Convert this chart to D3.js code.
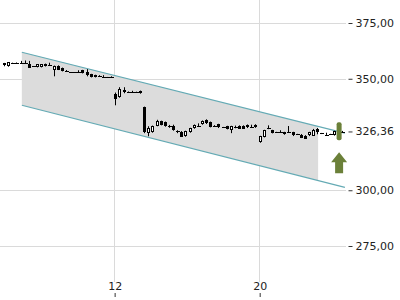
<!DOCTYPE html>
<html>
<head>
<meta charset="utf-8">
<script src="https://cdn.jsdelivr.net/npm/d3@7"></script>
<style>
  body { margin: 0; background: #fff; }
  text { font-family: "DejaVu Sans", sans-serif; font-size: 11px; fill: #222; }
</style>
</head>
<body>
<div id="chart"></div>
<script>
// candles, one per period
const opens = [356.9, 355.6, 357.1, 357.1, 357.0, 357.0, 356.8, 355.6, 355.2, 355.2,
  356.6, 356.1, 354.1, 355.8, 354.9, 353.4, 352.9, 352.9, 352.9, 353.8,
  353.2, 352.0, 350.8, 351.5, 350.9, 350.7, 350.6, 343.3, 341.8, 344.9,
  344.1, 344.1, 344.0, 344.5, 337.4, 325.7, 326.1, 329.0, 330.9, 330.5,
  328.8, 328.7, 326.5, 326.3, 324.2, 326.0, 327.8, 328.9, 329.6, 331.4,
  330.5, 329.0, 329.6, 328.2, 328.7, 327.0, 328.3, 329.0, 329.0, 329.1,
  328.2, 329.1, 321.5, 323.9, 327.8, 326.9, 326.0, 326.1, 326.0, 326.1,
  326.0, 325.1, 325.0, 324.5, 324.5, 324.7, 327.4, 325.5, 325.0, 325.0,
  324.7, 326.3, 325.9];
const highs = [357.1, 357.5, 357.2, 357.3, 358.0, 358.2, 358.0, 355.7, 356.5, 356.6,
  356.8, 357.2, 355.9, 356.0, 355.0, 353.9, 353.0, 353.0, 353.8, 354.0,
  354.3, 352.2, 351.8, 351.6, 351.6, 350.8, 351.1, 343.8, 346.2, 346.2,
  344.3, 344.6, 344.2, 344.7, 337.5, 328.7, 329.0, 331.6, 331.2, 330.8,
  329.3, 329.4, 326.9, 326.5, 326.7, 328.0, 329.5, 330.0, 331.3, 331.8,
  330.8, 329.2, 329.8, 328.4, 328.9, 328.9, 329.0, 329.1, 329.1, 329.5,
  329.4, 329.6, 324.4, 327.1, 329.1, 327.1, 326.2, 326.9, 326.2, 328.8,
  326.2, 325.3, 325.2, 324.7, 326.2, 327.5, 327.9, 325.7, 325.8, 325.3,
  326.7, 327.0, 326.6];
const lows = [355.6, 355.4, 356.9, 357.0, 356.9, 356.9, 355.0, 355.3, 355.1, 355.1,
  355.5, 356.0, 351.1, 353.9, 353.3, 353.2, 352.8, 352.8, 352.8, 352.4,
  351.1, 350.6, 350.6, 350.8, 350.8, 350.6, 350.4, 338.1, 341.5, 343.5,
  343.9, 343.9, 343.8, 343.3, 325.6, 324.2, 325.8, 328.7, 329.1, 328.5,
  328.0, 326.7, 325.6, 324.0, 324.0, 325.8, 327.6, 328.7, 329.4, 329.7,
  328.2, 328.8, 327.9, 328.0, 327.3, 325.6, 327.8, 327.6, 327.6, 327.9,
  328.0, 328.0, 321.3, 323.7, 327.4, 325.5, 325.8, 325.9, 324.9, 325.9,
  324.3, 324.8, 323.4, 323.1, 324.3, 324.5, 325.1, 325.2, 324.8, 324.8,
  324.5, 325.5, 325.7];
const closes = [355.8, 357.4, 357.0, 357.2, 357.1, 357.0, 355.1, 355.5, 356.4, 356.4,
  355.7, 356.2, 355.7, 354.1, 353.5, 353.3, 352.9, 352.9, 353.0, 352.6,
  352.0, 350.8, 351.7, 350.9, 350.9, 350.7, 350.6, 340.9, 345.2, 343.9,
  344.0, 344.1, 344.0, 343.4, 326.1, 327.9, 328.7, 331.1, 329.3, 328.7,
  328.7, 326.9, 326.4, 324.2, 326.5, 327.8, 329.3, 328.9, 331.1, 329.9,
  328.4, 329.0, 328.1, 328.1, 327.5, 328.7, 328.2, 327.8, 327.8, 328.0,
  328.1, 328.2, 324.2, 326.9, 327.8, 325.7, 325.9, 326.1, 325.1, 326.2,
  324.5, 325.0, 323.6, 323.3, 326.0, 327.2, 326.0, 325.4, 325.0, 325.1,
  326.5, 326.2, 326.36];

const yTickValues = [375, 350, 300, 275];
const lastPrice = 326.36;
const xTickLabels = ["12", "20"];
const xTickIndex = [26.7, 61.9];

// trend channel
const channelIndex = [4.3, 82.7];
const channelUpper = [361.9, 325.6];
const channelLower = [338.1, 301.3];
const channelFillEnd = 76.2;

// buy signal
const signalIndex = 81.3;
const signalBar = [322.4, 330.5];
const signalArrow = [307.6, 317.0];

const width = 400;
const height = 300;

const svg = d3
  .select("#chart")
  .append("svg")
  .attr("width", width)
  .attr("height", height);

const x = d3.scaleLinear().domain([-1, 82]).range([0, 342]);
const y = d3.scaleLinear().domain([275, 375]).range([246, 23]);
const crisp = (v) => Math.round(v) + 0.5;

// grid
svg
  .append("g")
  .selectAll("line")
  .data(yTickValues)
  .enter()
  .append("line")
  .attr("x1", 0)
  .attr("x2", 346)
  .attr("y1", (d) => crisp(y(d)))
  .attr("y2", (d) => crisp(y(d)))
  .style("stroke", "#dadada");

svg
  .append("g")
  .selectAll("line")
  .data(xTickIndex)
  .enter()
  .append("line")
  .attr("x1", (d) => crisp(x(d)))
  .attr("x2", (d) => crisp(x(d)))
  .attr("y1", 0)
  .attr("y2", 282)
  .style("stroke", "#dadada");

// channel
const upperAt = d3.scaleLinear().domain(channelIndex).range(channelUpper);
const lowerAt = d3.scaleLinear().domain(channelIndex).range(channelLower);

svg
  .append("path")
  .attr(
    "d",
    d3.line()([
      [x(channelIndex[0]), y(upperAt(channelIndex[0]))],
      [x(channelFillEnd), y(upperAt(channelFillEnd))],
      [x(channelFillEnd), y(lowerAt(channelFillEnd))],
      [x(channelIndex[0]), y(lowerAt(channelIndex[0]))],
    ]) + "Z"
  )
  .style("fill", "#dcdcdc");

[channelUpper, channelLower].forEach((vals) => {
  svg
    .append("line")
    .attr("x1", x(channelIndex[0]))
    .attr("x2", x(channelIndex[1]))
    .attr("y1", y(vals[0]))
    .attr("y2", y(vals[1]))
    .style("stroke", "#64aab4")
    .style("stroke-width", 1.2);
});

// candles
const candles = opens.map((o, i) => ({
  i: i,
  o: o,
  h: highs[i],
  l: lows[i],
  c: closes[i],
}));

const g = svg.append("g");

candles.forEach((d) => {
  const cx = Math.round(x(d.i));
  g.append("line")
    .attr("x1", cx + 0.5)
    .attr("x2", cx + 0.5)
    .attr("y1", y(d.h))
    .attr("y2", y(d.l))
    .style("stroke", "#000");

  const top = y(Math.max(d.o, d.c));
  const bot = y(Math.min(d.o, d.c));
  if (bot - top < 1.5) {
    g.append("rect")
      .attr("x", cx - 1)
      .attr("y", Math.round((top + bot) / 2))
      .attr("width", 4)
      .attr("height", 1)
      .style("fill", "#000");
  } else if (d.c < d.o) {
    g.append("rect")
      .attr("x", cx - 1)
      .attr("y", Math.round(top))
      .attr("width", 3)
      .attr("height", Math.round(bot - top))
      .style("fill", "#000");
  } else {
    g.append("rect")
      .attr("x", cx - 0.5)
      .attr("y", Math.round(top) + 0.5)
      .attr("width", 2)
      .attr("height", Math.round(bot - top) - 1)
      .style("fill", "#fff")
      .style("stroke", "#000");
  }
});

// y axis on the right
const yAxis = d3
  .axisRight(y)
  .tickValues(yTickValues.concat([lastPrice]))
  .tickSize(4)
  .tickPadding(3)
  .tickFormat((d) => d3.format(".2f")(d).replace(".", ","));

svg
  .append("g")
  .attr("transform", "translate(348.5, 0)")
  .call(yAxis)
  .call((a) => a.select(".domain").remove())
  .call((a) => a.selectAll("line").style("stroke", "#333"))
  .call((a) =>
    a
      .selectAll("text")
      .style("font-family", '"DejaVu Sans", sans-serif')
      .style("font-size", "11px")
      .style("fill", "#222")
  );

// x axis, labels sit above the ticks
const xAxis = d3
  .axisTop(x)
  .tickValues(xTickIndex)
  .tickSize(4)
  .tickPadding(3)
  .tickFormat((d, i) => xTickLabels[i]);

svg
  .append("g")
  .attr("transform", "translate(0.5, 297)")
  .call(xAxis)
  .call((a) => a.select(".domain").remove())
  .call((a) => a.selectAll("line").style("stroke", "#333"))
  .call((a) =>
    a
      .selectAll("text")
      .style("font-family", '"DejaVu Sans", sans-serif')
      .style("font-size", "11px")
      .style("fill", "#222")
  );

// signal marker
const sx = x(signalIndex);
svg
  .append("rect")
  .attr("x", sx - 2.5)
  .attr("y", y(signalBar[1]))
  .attr("width", 5)
  .attr("height", y(signalBar[0]) - y(signalBar[1]))
  .attr("rx", 2)
  .style("fill", "#6b8039");

const aTop = y(signalArrow[1]);
const aBot = y(signalArrow[0]);
svg
  .append("path")
  .attr(
    "d",
    d3.line()([
      [sx, aTop],
      [sx + 8, aTop + 10],
      [sx + 4, aTop + 10],
      [sx + 4, aBot],
      [sx - 4, aBot],
      [sx - 4, aTop + 10],
      [sx - 8, aTop + 10],
    ]) + "Z"
  )
  .style("fill", "#6b8039");
</script>
</body>
</html>
